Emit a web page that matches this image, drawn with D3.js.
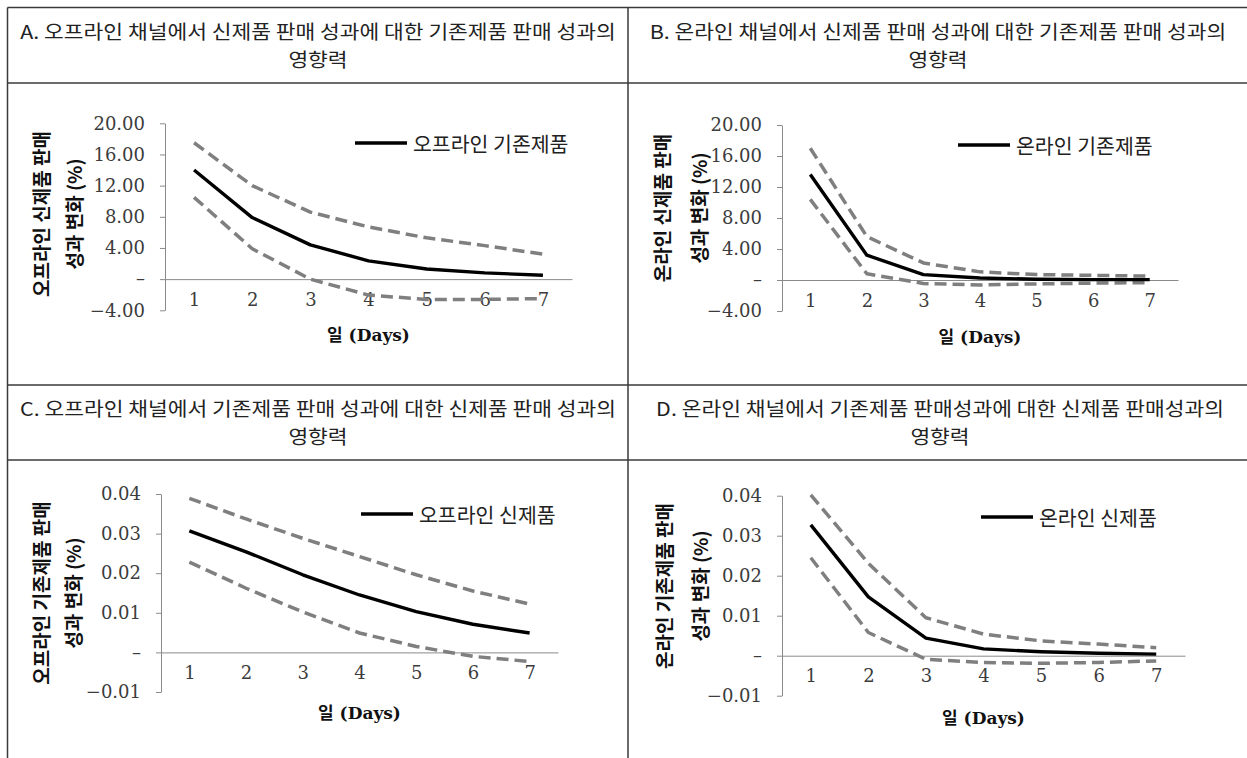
<!DOCTYPE html>
<html><head><meta charset="utf-8">
<script src="https://cdn.jsdelivr.net/npm/d3@7"></script>
<style>
html,body{margin:0;padding:0;background:#fff;}
svg{display:block;}
</style></head>
<body>
<script>
// ---------- DATA ----------
const days = [1, 2, 3, 4, 5, 6, 7];

const titleA = ["A. 오프라인 채널에서 신제품 판매 성과에 대한 기존제품 판매 성과의", "영향력"];
const titleB = ["B. 온라인 채널에서 신제품 판매 성과에 대한 기존제품 판매 성과의", "영향력"];
const titleC = ["C. 오프라인 채널에서 기존제품 판매 성과에 대한 신제품 판매 성과의", "영향력"];
const titleD = ["D. 온라인 채널에서 기존제품 판매성과에 대한 신제품 판매성과의", "영향력"];

const yTitleA = ["오프라인 신제품 판매", "성과 변화 (%)"];
const yTitleB = ["온라인 신제품 판매", "성과 변화 (%)"];
const yTitleC = ["오프라인 기존제품 판매", "성과 변화 (%)"];
const yTitleD = ["온라인 기존제품 판매", "성과 변화 (%)"];

const xTitle = "일 (Days)";

const legendA = "오프라인 기존제품";
const legendB = "온라인 기존제품";
const legendC = "오프라인 신제품";
const legendD = "온라인 신제품";

const yTicksAB = [20, 16, 12, 8, 4, 0, -4];
const yTickLabelsAB = ["20.00", "16.00", "12.00", "8.00", "4.00", "–", "−4.00"];
const yTicksCD = [0.04, 0.03, 0.02, 0.01, 0, -0.01];
const yTickLabelsCD = ["0.04", "0.03", "0.02", "0.01", "–", "−0.01"];

const aMean  = [14.0, 7.9, 4.4, 2.35, 1.3, 0.8, 0.5];
const aUpper = [17.5, 12.0, 8.6, 6.7, 5.3, 4.3, 3.2];
const aLower = [10.5, 3.9, 0.0, -2.05, -2.6, -2.6, -2.5];

const bMean  = [13.6, 3.2, 0.7, 0.25, 0.1, 0.05, 0.05];
const bUpper = [17.0, 5.6, 2.2, 1.05, 0.7, 0.6, 0.5];
const bLower = [10.4, 0.8, -0.45, -0.65, -0.5, -0.4, -0.35];

const cMean  = [0.0307, 0.0254, 0.0196, 0.0145, 0.0103, 0.0071, 0.0049];
const cUpper = [0.0389, 0.0337, 0.0288, 0.0242, 0.0196, 0.0155, 0.0122];
const cLower = [0.0228, 0.0162, 0.0102, 0.0049, 0.0015, -0.001, -0.0023];

const dMean  = [0.0327, 0.0147, 0.0044, 0.0017, 0.0010, 0.0006, 0.0004];
const dUpper = [0.0402, 0.0231, 0.0095, 0.0054, 0.0037, 0.0029, 0.0020];
const dLower = [0.0245, 0.0058, -0.0009, -0.0017, -0.0019, -0.0017, -0.0013];

// ---------- DRAW ----------
const W = 1247, H = 758;
const svg = d3.select("body").append("svg").attr("width", W).attr("height", H);
svg.append("rect").attr("width", W).attr("height", H).attr("fill", "#fff");

const KR = "'Noto Sans CJK KR','Noto Sans',sans-serif";
const SERIF = "'DejaVu Serif','Noto Sans CJK KR',serif";

// table grid
const grid = svg.append("g").attr("stroke", "#3a3a3a").attr("stroke-width", 1.5).attr("fill", "none");
[7.5, 83, 385, 460].forEach(y => grid.append("line").attr("x1", 7.5).attr("x2", W + 2).attr("y1", y).attr("y2", y));
[7.5, 628].forEach(x => grid.append("line").attr("x1", x).attr("x2", x).attr("y1", 7.5).attr("y2", H + 2));

function panel(cfg) {
  const g = svg.append("g");
  // header title: two separate lines, slightly widened glyphs as in the reference
  cfg.title.forEach((s, i) => g.append("text")
    .attr("transform", `translate(${cfg.titleX},${cfg.top + 23 + i * 28}) scale(1.13,1)`)
    .attr("text-anchor", "middle").attr("dominant-baseline", "central")
    .attr("font-family", KR).attr("font-size", 19).attr("font-weight", 400).attr("fill", "#222")
    .text(s));

  const x = d3.scalePoint().domain(days).range(cfg.xr).padding(0.5);
  const y = d3.scaleLinear().domain(cfg.ydom).range(cfg.yr);

  // y axis
  const ya = g.append("g").attr("transform", `translate(${cfg.xr[0]},0)`)
    .call(d3.axisLeft(y).tickValues(cfg.ticks)
      .tickFormat((d, i) => cfg.tickLabels[i]).tickSize(5).tickSizeOuter(0).tickPadding(15));
  ya.selectAll("path,line").attr("stroke", "#8a8a8a");
  ya.selectAll("text").attr("font-family", SERIF).attr("font-size", 18).attr("fill", "#3c3c3c");

  // x axis at zero
  const xa = g.append("g").attr("transform", `translate(0,${y(0)})`)
    .call(d3.axisBottom(x).tickSize(0).tickSizeOuter(0).tickPadding(14));
  xa.select("path").attr("stroke", "#8a8a8a");
  xa.selectAll("text").attr("font-family", SERIF).attr("font-size", 18).attr("fill", "#3c3c3c");

  // lines
  const line = d3.line().x((d, i) => x(days[i])).y(d => y(d)).curve(d3.curveLinear);
  [cfg.upper, cfg.lower].forEach(arr => g.append("path").attr("d", line(arr))
    .attr("fill", "none").attr("stroke", "#7f7f7f").attr("stroke-width", 3.5)
    .attr("stroke-linejoin", "round").attr("stroke-dasharray", "12,6"));
  g.append("path").attr("d", line(cfg.mean)).attr("fill", "none")
    .attr("stroke-linejoin", "round")
    .attr("stroke", "#000").attr("stroke-width", 3.4);

  // legend
  g.append("line").attr("x1", cfg.leg[0]).attr("x2", cfg.leg[0] + 52)
    .attr("y1", cfg.leg[1]).attr("y2", cfg.leg[1]).attr("stroke", "#000").attr("stroke-width", 3.4);
  g.append("text").attr("x", cfg.leg[0] + 58).attr("y", cfg.leg[1]).attr("dominant-baseline", "central")
    .attr("font-family", KR).attr("font-size", 20.5).attr("fill", "#222").text(cfg.legend);

  // y title (two rotated lines)
  cfg.yTitle.forEach((s, i) => g.append("text")
    .attr("transform", `translate(${cfg.yT[i]},${cfg.yT[2]}) rotate(-90)`)
    .attr("text-anchor", "middle").attr("dominant-baseline", "central")
    .attr("font-family", KR).attr("font-weight", 700).attr("font-size", 19).attr("fill", "#111").text(s));

  // x title
  g.append("text").attr("x", (cfg.xr[0] + cfg.xr[1]) / 2).attr("y", cfg.xT)
    .attr("text-anchor", "middle").attr("dominant-baseline", "central")
    .attr("font-family", SERIF).attr("font-weight", 700).attr("font-size", 17).attr("fill", "#111").text(xTitle);
}

panel({title: titleA, titleX: 318, top: 7.5, xr: [165, 572], ydom: [-4, 20], yr: [310.3, 123.3],
  ticks: yTicksAB, tickLabels: yTickLabelsAB, mean: aMean, upper: aUpper, lower: aLower,
  leg: [355, 143], legend: legendA, yTitle: yTitleA, yT: [40, 73, 214], xT: 335});
panel({title: titleB, titleX: 938, top: 7.5, xr: [782, 1178], ydom: [-4, 20], yr: [311, 125],
  ticks: yTicksAB, tickLabels: yTickLabelsAB, mean: bMean, upper: bUpper, lower: bLower,
  leg: [958, 145], legend: legendB, yTitle: yTitleB, yT: [661, 698, 208], xT: 337});
panel({title: titleC, titleX: 318, top: 385, xr: [161, 558], ydom: [-0.01, 0.04], yr: [692, 494],
  ticks: yTicksCD, tickLabels: yTickLabelsCD, mean: cMean, upper: cUpper, lower: cLower,
  leg: [361, 514], legend: legendC, yTitle: yTitleC, yT: [40, 72, 593], xT: 713});
panel({title: titleD, titleX: 940, top: 385, xr: [782, 1185], ydom: [-0.01, 0.04], yr: [695.7, 495.7],
  ticks: yTicksCD, tickLabels: yTickLabelsCD, mean: dMean, upper: dUpper, lower: dLower,
  leg: [981, 517], legend: legendD, yTitle: yTitleD, yT: [663, 699, 586], xT: 718});
</script>
</body></html>
